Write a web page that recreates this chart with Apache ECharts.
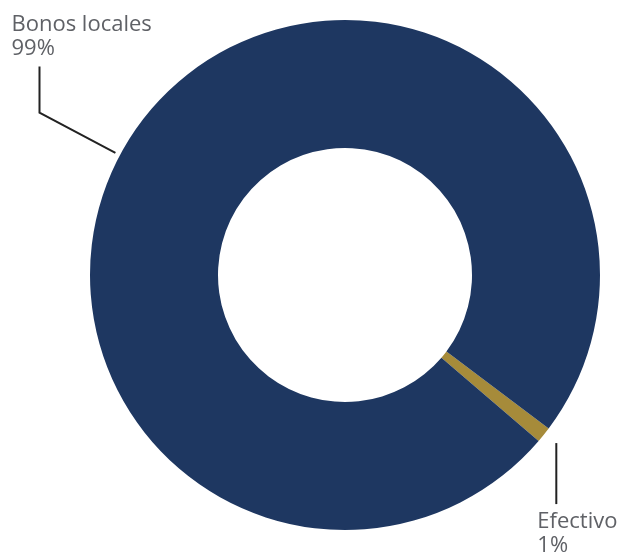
<!DOCTYPE html>
<html>
<head>
<meta charset="utf-8">
<script src="https://cdn.jsdelivr.net/npm/echarts@6/dist/echarts.min.js"></script>
<style>
  html, body { margin: 0; padding: 0; background: #fff; }
  #chart { width: 623px; height: 552px; }
</style>
</head>
<body>
<div id="chart"></div>
<script>
const categories = ['Efectivo', 'Bonos locales'];
const values = [1, 99];
const colors = ['#a68b3a', '#1e3761'];

const CENTER = [345, 275];
const R_IN = 127;
const R_OUT = 255;

function polar(deg, r) {
  const a = deg * Math.PI / 180;
  return [CENTER[0] + r * Math.cos(a), CENTER[1] - r * Math.sin(a)];
}

const chart = echarts.init(document.getElementById('chart'));

chart.setOption({
  backgroundColor: '#fff',
  animation: false,
  series: [
    {
      type: 'pie',
      center: CENTER,
      radius: [R_IN, R_OUT],
      startAngle: -37,
      clockwise: true,
      data: categories.map((name, i) => ({
        name: name,
        value: values[i],
        itemStyle: { color: colors[i] }
      })),
      label: {
        show: true,
        position: 'outside',
        formatter: '{b}\n{d}%',
        overflow: 'none',
        fontFamily: 'Open Sans',
        fontSize: 22,
        lineHeight: 24,
        color: '#5f6166'
      },
      labelLine: {
        show: true,
        lineStyle: { color: '#222', width: 2 }
      },
      labelLayout: function (params) {
        if (params.dataIndex === 1) {
          const start = polar(152, R_OUT + 5);
          const elbow = polar(152, R_OUT + 91);
          const end = [elbow[0], elbow[1] - 46];
          return {
            x: end[0] - 28,
            y: end[1] - 6,
            align: 'left',
            verticalAlign: 'bottom',
            width: 220,
            labelLinePoints: [start, elbow, end]
          };
        }
        const start = polar(-38.5, R_OUT + 15);
        const end = [start[0], start[1] + 61];
        return {
          x: end[0] - 19,
          y: end[1] + 6,
          align: 'left',
          verticalAlign: 'top',
          width: 140,
          labelLinePoints: [start, [start[0], start[1] + 30], end]
        };
      }
    }
  ]
});
</script>
</body>
</html>
